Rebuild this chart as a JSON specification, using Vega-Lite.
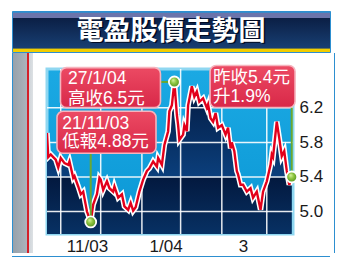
{
  "$schema": "https://vega.github.io/schema/vega-lite/v6.json",
  "background": "white",
  "padding": {"left": 11, "top": 10, "right": 0, "bottom": 0},
  "spacing": 0,
  "config": {"view": {"stroke": null}, "concat": {"spacing": 0}, "axis": {"labelFont": "Liberation Sans"}},
  "datasets": {
    "header": [{"title": "電盈股價走勢圖"}],
    "price": [
      {"date": "2003-10-17", "value": 5.91}, {"date": "2003-10-18", "value": 5.63}, {"date": "2003-10-20", "value": 5.66},
      {"date": "2003-10-22", "value": 5.63}, {"date": "2003-10-24", "value": 5.60}, {"date": "2003-10-26", "value": 5.51},
      {"date": "2003-10-28", "value": 5.62}, {"date": "2003-10-31", "value": 5.56}, {"date": "2003-11-03", "value": 5.54},
      {"date": "2003-11-04", "value": 5.58}, {"date": "2003-11-07", "value": 5.39}, {"date": "2003-11-08", "value": 5.41},
      {"date": "2003-11-11", "value": 5.29}, {"date": "2003-11-13", "value": 5.20}, {"date": "2003-11-15", "value": 5.23},
      {"date": "2003-11-18", "value": 5.00}, {"date": "2003-11-21", "value": 4.88}, {"date": "2003-11-23", "value": 5.08},
      {"date": "2003-11-26", "value": 5.20}, {"date": "2003-11-28", "value": 5.39}, {"date": "2003-11-29", "value": 5.37},
      {"date": "2003-12-01", "value": 5.25}, {"date": "2003-12-04", "value": 5.35}, {"date": "2003-12-06", "value": 5.27},
      {"date": "2003-12-09", "value": 5.23}, {"date": "2003-12-10", "value": 5.29}, {"date": "2003-12-13", "value": 5.16},
      {"date": "2003-12-16", "value": 5.20}, {"date": "2003-12-18", "value": 5.06}, {"date": "2003-12-21", "value": 5.02},
      {"date": "2003-12-23", "value": 5.10}, {"date": "2003-12-25", "value": 5.01}, {"date": "2003-12-27", "value": 5.05},
      {"date": "2003-12-30", "value": 5.23}, {"date": "2004-01-02", "value": 5.37}, {"date": "2004-01-05", "value": 5.47},
      {"date": "2004-01-07", "value": 5.50}, {"date": "2004-01-10", "value": 5.58}, {"date": "2004-01-13", "value": 5.52},
      {"date": "2004-01-14", "value": 5.62}, {"date": "2004-01-17", "value": 5.54}, {"date": "2004-01-19", "value": 5.77},
      {"date": "2004-01-22", "value": 5.93}, {"date": "2004-01-23", "value": 6.16}, {"date": "2004-01-25", "value": 6.23},
      {"date": "2004-01-27", "value": 6.50}, {"date": "2004-01-29", "value": 6.12}, {"date": "2004-01-30", "value": 6.00},
      {"date": "2004-01-31", "value": 5.83}, {"date": "2004-02-03", "value": 5.89}, {"date": "2004-02-04", "value": 6.00},
      {"date": "2004-02-06", "value": 5.93}, {"date": "2004-02-07", "value": 6.23}, {"date": "2004-02-10", "value": 6.45},
      {"date": "2004-02-12", "value": 6.33}, {"date": "2004-02-14", "value": 6.39}, {"date": "2004-02-16", "value": 6.27},
      {"date": "2004-02-19", "value": 6.31}, {"date": "2004-02-22", "value": 6.20}, {"date": "2004-02-23", "value": 6.24},
      {"date": "2004-02-25", "value": 6.08}, {"date": "2004-02-27", "value": 6.04}, {"date": "2004-02-29", "value": 6.14},
      {"date": "2004-03-02", "value": 5.97}, {"date": "2004-03-05", "value": 6.00}, {"date": "2004-03-08", "value": 5.89},
      {"date": "2004-03-10", "value": 5.97}, {"date": "2004-03-12", "value": 5.73}, {"date": "2004-03-13", "value": 5.80},
      {"date": "2004-03-15", "value": 5.70}, {"date": "2004-03-17", "value": 5.47}, {"date": "2004-03-18", "value": 5.43},
      {"date": "2004-03-20", "value": 5.31}, {"date": "2004-03-22", "value": 5.31}, {"date": "2004-03-25", "value": 5.23},
      {"date": "2004-03-28", "value": 5.27}, {"date": "2004-03-30", "value": 5.16}, {"date": "2004-04-02", "value": 5.23},
      {"date": "2004-04-05", "value": 5.02}, {"date": "2004-04-07", "value": 5.23}, {"date": "2004-04-10", "value": 5.35},
      {"date": "2004-04-13", "value": 5.54}, {"date": "2004-04-14", "value": 5.66}, {"date": "2004-04-15", "value": 5.63},
      {"date": "2004-04-18", "value": 6.04}, {"date": "2004-04-20", "value": 5.85}, {"date": "2004-04-22", "value": 5.64},
      {"date": "2004-04-24", "value": 5.70}, {"date": "2004-04-26", "value": 5.47}, {"date": "2004-04-28", "value": 5.31},
      {"date": "2004-04-30", "value": 5.40}
    ],
    "notes": [
      {"kind": "low", "date": "2003-11-21", "value": 4.88, "label": "21/11/03\n低報4.88元"},
      {"kind": "high", "date": "2004-01-27", "value": 6.5, "label": "27/1/04\n高收6.5元"},
      {"kind": "last", "date": "2004-04-30", "value": 5.4, "label": "昨收5.4元\n升1.9%"}
    ],
    "vgrid": [
      {"date": "2003-10-28"}, {"date": "2003-11-29"}, {"date": "2004-01-01"},
      {"date": "2004-02-01"}, {"date": "2004-03-05"}, {"date": "2004-04-10"}
    ],
    "hgrid": [{"value": 5.0}, {"value": 5.4}, {"value": 5.8}, {"value": 6.2}]
  },
  "vconcat": [
    {
      "width": 318,
      "height": 41,
      "view": {
        "stroke": "#2d8fd0",
        "strokeWidth": 1,
        "fill": {
          "gradient": "linear", "x1": 0, "y1": 0, "x2": 0, "y2": 1,
          "stops": [
            {"offset": 0, "color": "#2d8fd0"}, {"offset": 0.024, "color": "#2d8fd0"},
            {"offset": 0.026, "color": "#6b74ab"}, {"offset": 0.155, "color": "#6b74ab"},
            {"offset": 0.162, "color": "#0b1f45"}, {"offset": 0.9, "color": "#183f73"},
            {"offset": 0.906, "color": "#f2cd00"}, {"offset": 1, "color": "#f2cd00"}
          ]
        }
      },
      "data": {"name": "header"},
      "layer": [
        {
          "mark": {"type": "text", "font": "Noto Sans CJK TC", "fontSize": 27, "fontWeight": "bold", "color": "#000a22", "baseline": "middle", "dx": 1.5, "dy": 1.5},
          "encoding": {"text": {"field": "title"}}
        },
        {
          "mark": {"type": "text", "font": "Noto Sans CJK TC", "fontSize": 27, "fontWeight": "bold", "color": "#ffffff", "baseline": "middle"},
          "encoding": {"text": {"field": "title"}}
        }
      ]
    },
    {
      "spacing": 0,
      "hconcat": [
        {
          "width": 31.5,
          "height": 200,
          "view": {
            "stroke": null,
            "fill": {
              "gradient": "linear", "x1": 0, "y1": 0, "x2": 1, "y2": 0,
              "stops": [
                {"offset": 0, "color": "#2d8fd0"}, {"offset": 0.031, "color": "#2d8fd0"},
                {"offset": 0.033, "color": "#97a1aa"}, {"offset": 0.474, "color": "#abb4bc"},
                {"offset": 0.477, "color": "#d4202a"}, {"offset": 0.53, "color": "#d4202a"},
                {"offset": 0.533, "color": "#cdd3d8"}, {"offset": 0.665, "color": "#dde1e4"},
                {"offset": 0.668, "color": "#ffffff"}, {"offset": 1, "color": "#ffffff"}
              ]
            }
          },
          "data": {"values": []},
          "mark": "rect"
        },
        {
          "spacing": 0,
          "vconcat": [
            {
              "width": 246,
              "height": 10,
              "data": {"values": []},
              "mark": "rect"
            },
            {
              "width": 246,
              "height": 165,
              "view": {
                "stroke": "#8fd7f1",
                "strokeWidth": 3,
                "fill": {
                  "gradient": "linear", "x1": 0, "y1": 0, "x2": 0, "y2": 1,
                  "stops": [{"offset": 0, "color": "#1ba9e3"}, {"offset": 1, "color": "#0b97d5"}]
                }
              },
              "layer": [
                {
                  "data": {"name": "price"},
                  "mark": {
                    "type": "area",
                    "clip": true,
                    "fill": {
                      "gradient": "linear", "x1": 0, "y1": 0, "x2": 0, "y2": 1,
                      "stops": [
                        {"offset": 0, "color": "#03193f"}, {"offset": 0.169, "color": "#0b3f7c"},
                        {"offset": 0.171, "color": "#03193f"}, {"offset": 0.396, "color": "#0d4f92"},
                        {"offset": 0.398, "color": "#03193f"}, {"offset": 0.624, "color": "#0d4f92"},
                        {"offset": 0.626, "color": "#03193f"}, {"offset": 0.851, "color": "#0d4f92"},
                        {"offset": 0.853, "color": "#03193f"}, {"offset": 1, "color": "#0e5aa0"}
                      ]
                    }
                  },
                  "encoding": {
                    "x": {
                      "field": "date", "type": "temporal",
                      "scale": {"type": "utc", "domain": [{"year": 2003, "month": 10, "date": 17, "utc": true}, {"year": 2004, "month": 5, "date": 1, "utc": true}]},
                      "axis": {
                        "values": [{"year": 2003, "month": 11, "date": 18, "utc": true}, {"year": 2004, "month": 1, "date": 20, "utc": true}, {"year": 2004, "month": 3, "date": 22, "utc": true}],
                        "labelExpr": "utcmonth(datum.value) == 2 ? '3' : utcFormat(datum.value, '%-m/%y')",
                        "title": null, "grid": false, "ticks": false, "domain": false,
                        "labelFontSize": 17, "labelColor": "#1a1a1a", "labelPadding": 4, "labelOverlap": false
                      }
                    },
                    "y": {
                      "field": "value", "type": "quantitative",
                      "scale": {"domain": [4.74, 6.65], "zero": false, "nice": false},
                      "axis": {
                        "orient": "right", "values": [5.0, 5.4, 5.8, 6.2], "format": ".1f",
                        "title": null, "grid": false, "ticks": false, "domain": false,
                        "labelFontSize": 17, "labelColor": "#1a1a1a", "labelPadding": 6
                      }
                    }
                  }
                },
                {
                  "data": {"name": "vgrid"},
                  "mark": {"type": "rule", "color": "#ffffff", "strokeWidth": 1.5, "opacity": 0.9},
                  "encoding": {"x": {"field": "date", "type": "temporal"}}
                },
                {
                  "data": {"name": "hgrid"},
                  "mark": {"type": "rule", "color": "#ffffff", "strokeWidth": 1.5, "opacity": 0.9},
                  "encoding": {"y": {"field": "value", "type": "quantitative"}}
                },
                {
                  "data": {"name": "price"},
                  "mark": {"type": "line", "color": "#ffffff", "strokeWidth": 5.5, "clip": true},
                  "encoding": {"x": {"field": "date", "type": "temporal"}, "y": {"field": "value", "type": "quantitative"}}
                },
                {
                  "data": {"name": "price"},
                  "mark": {"type": "line", "color": "#e2001b", "strokeWidth": 2.4, "clip": true},
                  "encoding": {"x": {"field": "date", "type": "temporal"}, "y": {"field": "value", "type": "quantitative"}}
                },
                {
                  "data": {"name": "notes"},
                  "transform": [{"filter": "datum.kind == 'high'"}],
                  "mark": {"type": "rule", "color": "#6aa832", "strokeWidth": 2, "x2Offset": -14},
                  "encoding": {"x": {"field": "date", "type": "temporal"}, "x2": {"field": "date"}, "y": {"field": "value", "type": "quantitative"}}
                },
                {
                  "data": {"name": "notes"},
                  "transform": [{"filter": "datum.kind == 'low'"}],
                  "mark": {"type": "rule", "color": "#6aa832", "strokeWidth": 2, "y2Offset": -68.6},
                  "encoding": {"x": {"field": "date", "type": "temporal"}, "y": {"field": "value", "type": "quantitative"}, "y2": {"field": "value"}}
                },
                {
                  "data": {"name": "notes"},
                  "transform": [{"filter": "datum.kind == 'last'"}],
                  "mark": {"type": "rule", "color": "#6aa832", "strokeWidth": 2, "y2Offset": -69.5},
                  "encoding": {"x": {"field": "date", "type": "temporal"}, "y": {"field": "value", "type": "quantitative"}, "y2": {"field": "value"}}
                },
                {
                  "data": {"name": "notes"},
                  "mark": {
                    "type": "point", "filled": true, "size": 120, "opacity": 1,
                    "stroke": "#ffffff", "strokeWidth": 1.8,
                    "fill": {
                      "gradient": "radial", "x1": 0.38, "y1": 0.32, "r1": 0, "x2": 0.5, "y2": 0.5, "r2": 0.55,
                      "stops": [{"offset": 0, "color": "#dcf7a8"}, {"offset": 0.45, "color": "#8ec640"}, {"offset": 1, "color": "#4a8a1a"}]
                    }
                  },
                  "encoding": {"x": {"field": "date", "type": "temporal"}, "y": {"field": "value", "type": "quantitative"}}
                },
                {
                  "data": {"name": "notes"},
                  "transform": [{"filter": "datum.kind == 'high'"}],
                  "mark": {
                    "type": "rect", "width": 100, "height": 40, "xOffset": -63.9, "yOffset": 5.7, "cornerRadius": 6,
                    "stroke": "#f6b3bd", "strokeWidth": 1.6,
                    "fill": {"gradient": "linear", "x1": 0, "y1": 0, "x2": 0, "y2": 1, "stops": [{"offset": 0, "color": "#ec4a63"}, {"offset": 1, "color": "#d82848"}]}
                  },
                  "encoding": {"x": {"field": "date", "type": "temporal"}, "y": {"field": "value", "type": "quantitative"}}
                },
                {
                  "data": {"name": "notes"},
                  "transform": [{"filter": "datum.kind == 'low'"}],
                  "mark": {
                    "type": "rect", "width": 99, "height": 42, "xOffset": 15.8, "yOffset": -89.6, "cornerRadius": 6,
                    "stroke": "#f6b3bd", "strokeWidth": 1.6,
                    "fill": {"gradient": "linear", "x1": 0, "y1": 0, "x2": 0, "y2": 1, "stops": [{"offset": 0, "color": "#ec4a63"}, {"offset": 1, "color": "#d82848"}]}
                  },
                  "encoding": {"x": {"field": "date", "type": "temporal"}, "y": {"field": "value", "type": "quantitative"}}
                },
                {
                  "data": {"name": "notes"},
                  "transform": [{"filter": "datum.kind == 'last'"}],
                  "mark": {
                    "type": "rect", "width": 85, "height": 42, "xOffset": -39.2, "yOffset": -90.5, "cornerRadius": 6,
                    "stroke": "#f6b3bd", "strokeWidth": 1.6,
                    "fill": {"gradient": "linear", "x1": 0, "y1": 0, "x2": 0, "y2": 1, "stops": [{"offset": 0, "color": "#ec4a63"}, {"offset": 1, "color": "#d82848"}]}
                  },
                  "encoding": {"x": {"field": "date", "type": "temporal"}, "y": {"field": "value", "type": "quantitative"}}
                },
                {
                  "data": {"name": "notes"},
                  "transform": [{"filter": "datum.kind == 'high'"}],
                  "mark": {"type": "text", "align": "left", "baseline": "top", "lineBreak": "\n", "lineHeight": 20, "fontSize": 17.5, "color": "#ffffff", "font": "Liberation Sans, Noto Sans CJK TC", "dx": -106.4, "dy": -12.1},
                  "encoding": {"x": {"field": "date", "type": "temporal"}, "y": {"field": "value", "type": "quantitative"}, "text": {"field": "label"}}
                },
                {
                  "data": {"name": "notes"},
                  "transform": [{"filter": "datum.kind == 'low'"}],
                  "mark": {"type": "text", "align": "left", "baseline": "top", "lineBreak": "\n", "lineHeight": 18.5, "fontSize": 17.5, "color": "#ffffff", "font": "Liberation Sans, Noto Sans CJK TC", "dx": -28.4, "dy": -107},
                  "encoding": {"x": {"field": "date", "type": "temporal"}, "y": {"field": "value", "type": "quantitative"}, "text": {"field": "label"}}
                },
                {
                  "data": {"name": "notes"},
                  "transform": [{"filter": "datum.kind == 'last'"}],
                  "mark": {"type": "text", "align": "left", "baseline": "top", "lineBreak": "\n", "lineHeight": 18.5, "fontSize": 17.5, "color": "#ffffff", "font": "Liberation Sans, Noto Sans CJK TC", "dx": -78.7, "dy": -107.8},
                  "encoding": {"x": {"field": "date", "type": "temporal"}, "y": {"field": "value", "type": "quantitative"}, "text": {"field": "label"}}
                }
              ]
            }
          ]
        },
        {
          "width": 10,
          "height": 200,
          "view": {
            "stroke": null,
            "fill": {
              "gradient": "linear", "x1": 0, "y1": 0, "x2": 1, "y2": 0,
              "stops": [
                {"offset": 0, "color": "#ffffff"}, {"offset": 0.89, "color": "#ffffff"},
                {"offset": 0.9, "color": "#2d8fd0"}, {"offset": 1, "color": "#2d8fd0"}
              ]
            }
          },
          "data": {"values": []},
          "mark": "rect"
        }
      ]
    },
    {
      "width": 318,
      "height": 1,
      "view": {"stroke": null, "fill": "#2d8fd0"},
      "data": {"values": []},
      "mark": "rect"
    }
  ]
}
